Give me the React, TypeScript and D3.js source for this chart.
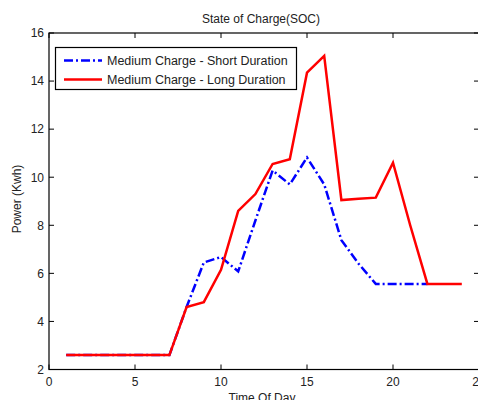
import React from "react";
import * as d3 from "d3";

const hours = [1, 2, 3, 4, 5, 6, 7, 8, 9, 10, 11, 12, 13, 14, 15, 16, 17, 18, 19, 20, 21, 22, 23, 24];
const longDuration = [2.6, 2.6, 2.6, 2.6, 2.6, 2.6, 2.6, 4.6, 4.8, 6.15, 8.6, 9.3, 10.55, 10.75, 14.35, 15.05, 9.05, 9.1, 9.15, 10.6, 8.0, 5.56, 5.56, 5.56];
const shortHours = [1, 2, 3, 4, 5, 6, 7, 8, 9, 10, 11, 12, 13, 14, 15, 16, 17, 18, 19, 20, 21, 22];
const shortDuration = [2.6, 2.6, 2.6, 2.6, 2.6, 2.6, 2.6, 4.6, 6.45, 6.68, 6.08, 8.2, 10.28, 9.7, 10.82, 9.7, 7.38, 6.4, 5.56, 5.56, 5.56, 5.56];
const xTicks = [0, 5, 10, 15, 20, 25];
const yTicks = [2, 4, 6, 8, 10, 12, 14, 16];
const seriesNames = ["Medium Charge - Short Duration", "Medium Charge - Long Duration"];

const W = 478;
const H = 400;
const FONT = "'Liberation Sans', Arial, sans-serif";

export default function App() {
  const x = d3.scaleLinear().domain([0, 25]).range([49, 479]);
  const y = d3.scaleLinear().domain([2, 16]).range([369.5, 33]);
  const line = d3
    .line<[number, number]>()
    .x((d) => x(d[0]))
    .y((d) => y(d[1]));
  const shortPath = line(shortHours.map((h, i) => [h, shortDuration[i]] as [number, number])) || "";
  const longPath = line(hours.map((h, i) => [h, longDuration[i]] as [number, number])) || "";
  const [x0, x1] = x.range();
  const [y0, y1] = y.range();
  const dash = "9,3,2,3";
  const textColor = "#222";

  return (
    <svg
      width={W}
      height={H}
      style={{ position: "fixed", left: 0, top: 0, background: "#fff" }}
      fontFamily={FONT}
    >
      <rect x={0} y={0} width={W} height={H} fill="#fff" />
      {/* data */}
      <path d={shortPath} fill="none" stroke="#0000ff" strokeWidth={2.5} strokeDasharray={dash} />
      <path d={longPath} fill="none" stroke="#ff0000" strokeWidth={2.5} strokeLinejoin="miter" />
      {/* axes box */}
      <rect x={x0} y={y1} width={x1 - x0} height={y0 - y1} fill="none" stroke="#000" strokeWidth={1.2} />
      {xTicks.map((t) => (
        <g key={"xt" + t}>
          <line x1={x(t)} x2={x(t)} y1={y0} y2={y0 - 5} stroke="#000" />
          <line x1={x(t)} x2={x(t)} y1={y1} y2={y1 + 5} stroke="#000" />
          <text x={x(t)} y={386} textAnchor="middle" fontSize={12} fill={textColor}>
            {t}
          </text>
        </g>
      ))}
      {yTicks.map((t) => (
        <g key={"yt" + t}>
          <line x1={x0} x2={x0 + 5} y1={y(t)} y2={y(t)} stroke="#000" />
          <line x1={x1} x2={x1 - 5} y1={y(t)} y2={y(t)} stroke="#000" />
          <text x={44} y={y(t) + 4.3} textAnchor="end" fontSize={12} fill={textColor}>
            {t}
          </text>
        </g>
      ))}
      {/* title and labels */}
      <text x={261} y={23} textAnchor="middle" fontSize={12} fill={textColor}>
        State of Charge(SOC)
      </text>
      <text x={262} y={402} textAnchor="middle" fontSize={12} fill={textColor}>
        Time Of Day
      </text>
      <text
        transform={`translate(21,199) rotate(-90)`}
        textAnchor="middle"
        fontSize={12}
        fill={textColor}
      >
        Power (Kwh)
      </text>
      {/* legend */}
      <rect x={55.5} y={47.5} width={241} height={42} fill="#fff" stroke="#000" strokeWidth={1.2} />
      <line x1={64} x2={102} y1={60.5} y2={60.5} stroke="#0000ff" strokeWidth={2.5} strokeDasharray={dash} />
      <line x1={64} x2={102} y1={79.5} y2={79.5} stroke="#ff0000" strokeWidth={2.5} />
      <text x={107} y={64.5} fontSize={12.5} fill={textColor}>
        {seriesNames[0]}
      </text>
      <text x={107} y={83.5} fontSize={12.5} fill={textColor}>
        {seriesNames[1]}
      </text>
    </svg>
  );
}
